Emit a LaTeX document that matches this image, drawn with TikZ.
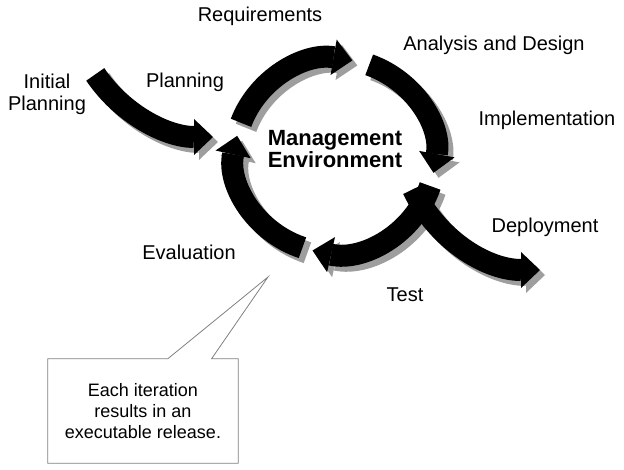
\documentclass[tikz,border=0pt]{standalone}
\usepackage{fontspec}
\setmainfont{Liberation Sans}
\usetikzlibrary{arrows.meta,calc}

\begin{document}
\begin{tikzpicture}
	[x=1pt,y=1pt,
	bigarrow/.style={line width=22pt,-{Triangle[width=36pt,length=19pt,line width=0pt]}},
	grayshift/.style={draw=black!38,transform canvas={shift={(5pt,-5pt)}}},
	label/.style={font=\fontsize{20}{22}\selectfont,anchor=base}]
	\useasboundingbox (0,0) rectangle (624,469);
	\coordinate (ring) at (335,313);
	\coordinate (plan) at (213,474);
	\coordinate (depl) at (540,339);
	\coordinate (tip) at (268,192);
	
	% gray copies first, black arrows over them
	\foreach \look in {grayshift,black}
	{
		\foreach \from/\to in {160/80,70/-10,-18/-103,251/168}
		\draw[bigarrow,\look] ([shift={(\from:100 and 97)}]ring)
			arc[start angle=\from,end angle=\to,x radius=100,y radius=97];
		\draw[bigarrow,\look] ([shift={(214:142)}]plan)
			arc[start angle=214,end angle=270,radius=142];
		\draw[bigarrow,\look] ([shift={(205:140)}]depl)
			arc[start angle=205,end angle=270,radius=140];
	}
	
	\node[label] (req) at (260,447) {Requirements};
	\node[label] (anl) at (494,418) {Analysis and Design};
	\node[label] (imp) at (547,343) {Implementation};
	\node[label] (dep) at (545,236) {Deployment};
	\node[label] (tst) at (405,167) {Test};
	\node[label] (evl) at (189,209) {Evaluation};
	\node[label] (pln) at (185,381) {Planning};
	\node[label,anchor=center,align=center] (ini) at (47,375) {Initial\\Planning};
	\node[align=center,font=\fontsize{22}{20}\selectfont\bfseries] (env) at (335,320)
		{Management\\Environment};
	
	% callout
	\node[minimum width=190pt,minimum height=104pt,align=center,
		font=\fontsize{18}{21}\selectfont] (note) at (143,58)
		{Each iteration\\results in an\\executable release.};
	\draw[black!50,line width=0.8pt]
		($(note.north west)!0.63!(note.north east)$) -- (tip)
		-- ($(note.north west)!0.86!(note.north east)$) -- (note.north east)
		-- (note.south east) -- (note.south west) -- (note.north west) -- cycle;
\end{tikzpicture}
\end{document}
